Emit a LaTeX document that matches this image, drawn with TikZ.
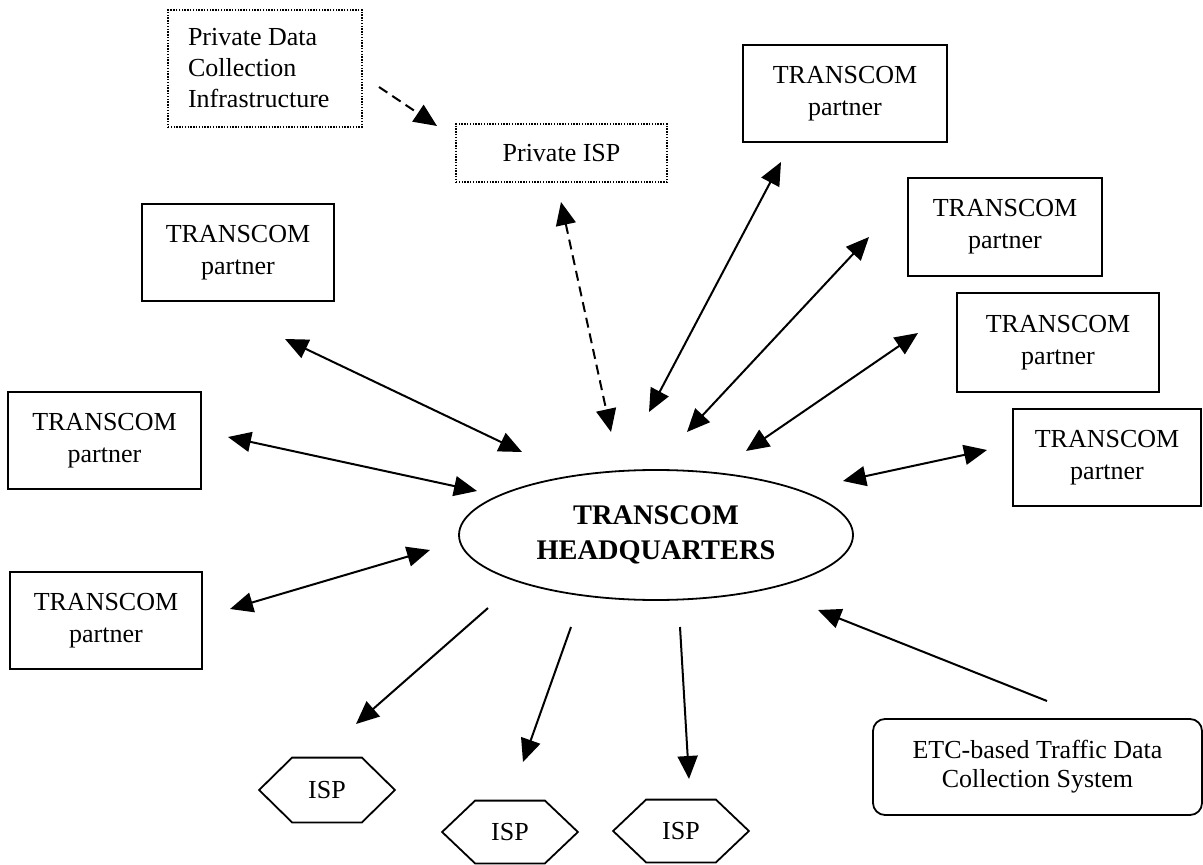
\documentclass[tikz,border=0pt]{standalone}
\usepackage{fontspec}
\setmainfont{Liberation Serif}
\usetikzlibrary{arrows.meta,shapes.geometric}

\begin{document}
\begin{tikzpicture}[x=0.5pt,y=-0.5pt,>={Triangle[length=11.5pt,width=10pt]},
  partner node/.style={draw,line width=0.9pt,minimum width=96pt,minimum height=48.5pt,inner sep=0pt,align=center,font=\fontsize{13}{16}\selectfont},
  private node/.style={draw,line width=0.9pt,dash pattern=on 0.7pt off 0.7pt,inner sep=0pt,font=\fontsize{13}{15.5}\selectfont},
  isp node/.style={minimum width=67.5pt,minimum height=32pt,inner sep=0pt,font=\fontsize{13}{16}\selectfont},
  link/.style={<->,line width=1pt},
  feed/.style={->,line width=1pt},
  private link/.style={line width=1pt,dash pattern=on 5pt off 3pt}]
  \useasboundingbox (0,0) rectangle (1203,865);

  % headquarters
  \node[draw,ellipse,line width=0.9pt,minimum width=197pt,minimum height=65pt,inner sep=0pt,align=center,font=\bfseries\fontsize{14.2}{17.5}\selectfont] (hq) at (656,535) {TRANSCOM\\HEADQUARTERS};

  % partners
  \node[partner node] (L1) at (238,252.5) {TRANSCOM\\partner};
  \node[partner node,minimum width=96.5pt] (L2) at (104.5,440.5) {TRANSCOM\\partner};
  \node[partner node] (L3) at (106,620.5) {TRANSCOM\\partner};
  \node[partner node,minimum width=102pt] (T1) at (845,93.5) {TRANSCOM\\partner};
  \node[partner node,minimum width=97pt,minimum height=49pt] (T2) at (1005,227) {TRANSCOM\\partner};
  \node[partner node,minimum width=101pt,minimum height=49.5pt] (T3) at (1058,342.5) {TRANSCOM\\partner};
  \node[partner node,minimum width=94pt] (T4) at (1107,457.5) {TRANSCOM\\partner};

  % private side
  \node[private node,minimum width=97pt,minimum height=58.5pt,text width=77pt,inner xsep=10pt,align=flush left] (pdc) at (265,68.5) {Private Data\\Collection\\Infrastructure};
  \node[private node,minimum width=105.5pt,minimum height=29pt] (pisp) at (561.5,153) {Private ISP};

  % isps and etc
  \node[isp node] (isp1) at (327,790) {ISP};
  \node[isp node,minimum height=31pt] (isp2) at (510,832) {ISP};
  \node[isp node,minimum height=31pt] (isp3) at (681,831) {ISP};
  \foreach \n in {isp1,isp2,isp3}
    \draw[line width=0.9pt] ([xshift=16.5pt]\n.north west) -- ([xshift=-16.5pt]\n.north east) -- (\n.east)
      -- ([xshift=-16.5pt]\n.south east) -- ([xshift=16.5pt]\n.south west) -- (\n.west) -- cycle;
  \node[draw,rounded corners=6pt,line width=0.9pt,minimum width=164.5pt,minimum height=48pt,inner sep=0pt,align=center,font=\fontsize{13}{14.5}\selectfont] (etc) at (1037.5,767) {ETC-based Traffic Data\\Collection System};

  % arrow ends
  \coordinate (L1a) at (285,339);  \coordinate (L1b) at (522,452);
  \coordinate (L2a) at (228,437);  \coordinate (L2b) at (477,491);
  \coordinate (L3a) at (230,609);  \coordinate (L3b) at (430,550);
  \coordinate (T1a) at (781,162);  \coordinate (T1b) at (649,412);
  \coordinate (T2a) at (869,237);  \coordinate (T2b) at (687,432);
  \coordinate (T3a) at (918,333);  \coordinate (T3b) at (746,451);
  \coordinate (T4a) at (987,450);  \coordinate (T4b) at (843,481);
  \coordinate (pispa) at (561,202); \coordinate (pispb) at (611,432);
  \coordinate (pdca) at (379,87);  \coordinate (pdcb) at (437,126);
  \coordinate (isp1a) at (488,608); \coordinate (isp1b) at (356,724);
  \coordinate (isp2a) at (571,627); \coordinate (isp2b) at (523,762);
  \coordinate (isp3a) at (680,627); \coordinate (isp3b) at (689,779);
  \coordinate (etca) at (1047,701); \coordinate (etcb) at (818,610);

  \path
    (L1a) edge[link] (L1b)
    (L2a) edge[link] (L2b)
    (L3a) edge[link] (L3b)
    (T1a) edge[link] (T1b)
    (T2a) edge[link] (T2b)
    (T3a) edge[link] (T3b)
    (T4a) edge[link] (T4b)
    (pispa) edge[link,private link] (pispb)
    (pdca) edge[feed,private link] (pdcb)
    (isp1a) edge[feed] (isp1b)
    (isp2a) edge[feed] (isp2b)
    (isp3a) edge[feed] (isp3b)
    (etca) edge[feed] (etcb)
  ;
\end{tikzpicture}
\end{document}
